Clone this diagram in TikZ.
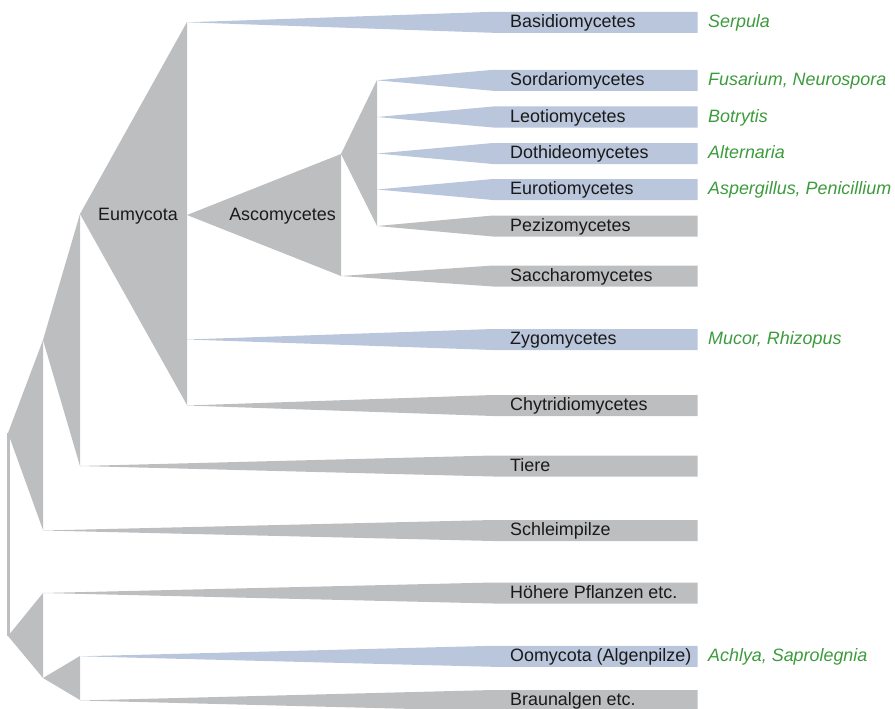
\documentclass[tikz,border=0pt]{standalone}
\usepackage{fontspec}
\setmainfont{Liberation Sans}
\definecolor{cblue}{HTML}{B9C6DB}
\definecolor{cgray}{HTML}{BDBEC0}
\definecolor{cgreen}{HTML}{3C9B3C}
\definecolor{ctext}{HTML}{1A1A1A}
\tikzset{
  leaftext/.style={anchor=base west, inner sep=0pt, text=ctext, font=\fontsize{17.9}{20}\selectfont},
  genus/.style={anchor=base west, inner sep=0pt, text=cgreen, font=\fontsize{17.9}{20}\selectfont\itshape},
  cladetext/.style={anchor=base, inner sep=0pt, text=ctext, font=\fontsize{17.9}{20}\selectfont},
}
\newcommand\leafwedge[5]{%
  \coordinate (#1-a) at (#2,#3);
  \fill[#4] (#1-a) -- (493,#3-10.5) -- (697.5,#3-10.5) -- (697.5,#3+10.5) -- (493,#3+10.5) -- cycle;
  \node[leaftext] (#1) at (510,#3+5) {#5};
}
\begin{document}
\begin{tikzpicture}[x=1pt,y=-1pt]
\useasboundingbox (0,0) rectangle (895,709);
% internal node coordinates
\coordinate (r1) at (8,433);
\coordinate (r2) at (8,636);
\coordinate (n2) at (43,340);
\coordinate (eu) at (80,214);
\coordinate (as) at (187,215);
\coordinate (in) at (341,154);
\coordinate (oo) at (43,678);
% root line
\draw[cgray, line width=3pt] (r1) -- (r2);
% clade triangles
\fill[cgray] (r1) -- (43,340) -- (43,530) -- cycle;
\fill[cgray] (n2) -- (80,214) -- (80,466) -- cycle;
\fill[cgray] (eu) -- (187,22) -- (187,405) -- cycle;
\fill[cgray] (as) -- (341,154) -- (341,276) -- cycle;
\fill[cgray] (in) -- (377,80) -- (377,226) -- cycle;
\fill[cgray] (r2) -- (43,593) -- (43,678) -- cycle;
\fill[cgray] (oo) -- (80,656) -- (80,700) -- cycle;
% leaves
\leafwedge{basi}{187}{22.3}{cblue}{Basidiomycetes}
\leafwedge{sord}{377}{80.3}{cblue}{Sordariomycetes}
\leafwedge{leot}{377}{117}{cblue}{Leotiomycetes}
\leafwedge{doth}{377}{153.5}{cblue}{Dothideomycetes}
\leafwedge{euro}{377}{189.5}{cblue}{Eurotiomycetes}
\leafwedge{pezi}{377}{226}{cgray}{Pezizomycetes}
\leafwedge{sacc}{341}{276}{cgray}{Saccharomycetes}
\leafwedge{zygo}{187}{339.5}{cblue}{Zygomycetes}
\leafwedge{chyt}{187}{405.5}{cgray}{Chytridiomycetes}
\leafwedge{tier}{80}{466}{cgray}{Tiere}
\leafwedge{schl}{43}{530.5}{cgray}{Schleimpilze}
\leafwedge{hoeh}{43}{593}{cgray}{Höhere Pflanzen etc.}
\leafwedge{oomy}{80}{656.3}{cblue}{Oomycota (Algenpilze)}
\leafwedge{brau}{80}{700.5}{cgray}{Braunalgen etc.}
% genus labels
\node[genus] (g-basi) at (708,27.3) {Serpula};
\node[genus] (g-sord) at (708,85.3) {Fusarium, Neurospora};
\node[genus] (g-leot) at (708,122) {Botrytis};
\node[genus] (g-doth) at (708,158.5) {Alternaria};
\node[genus] (g-euro) at (708,194.5) {Aspergillus, Penicillium};
\node[genus] (g-zygo) at (708,344.5) {Mucor, Rhizopus};
\node[genus] (g-oomy) at (708,661.3) {Achlya, Saprolegnia};
% clade labels
\node[cladetext] (l-eu) at (138,220) {Eumycota};
\node[cladetext] (l-as) at (282.5,220) {Ascomycetes};
\end{tikzpicture}
\end{document}
